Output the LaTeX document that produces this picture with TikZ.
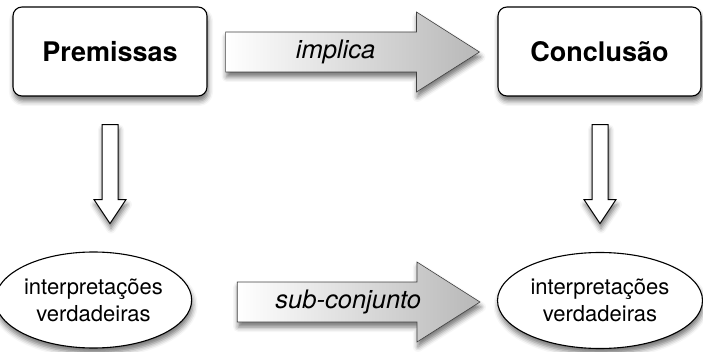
\documentclass[tikz,border=0pt]{standalone}
\usepackage{fontspec}
\setmainfont{TeX Gyre Heros}
\usetikzlibrary{calc,shapes.geometric,shadows.blur}

% seta grande horizontal: #1 inicio, #2 ponta
\newcommand{\setah}[2]{%
  \draw[setah] let \p1=(#1), \p2=(#2) in
    (\x1,\y1+20pt) -- (\x2-63pt,\y1+20pt) -- (\x2-63pt,\y1+40pt) -- (\x2,\y1)
    -- (\x2-63pt,\y1-40pt) -- (\x2-63pt,\y1-20pt) -- (\x1,\y1-20pt) -- cycle;}
% seta fina vertical: #1 inicio, #2 ponta
\newcommand{\setav}[2]{%
  \draw[setav] let \p1=(#1), \p2=(#2) in
    (\x1-8pt,\y1) -- (\x1-8pt,\y2+24pt) -- (\x1-16pt,\y2+24pt) -- (\x1,\y2)
    -- (\x1+16pt,\y2+24pt) -- (\x1+8pt,\y2+24pt) -- (\x1+8pt,\y1) -- cycle;}

\tikzset{
  sombra/.style={blur shadow={shadow xshift=1pt,shadow yshift=-5pt,shadow blur radius=5pt,shadow opacity=55}},
  caixa/.style={draw,line width=1.1pt,rounded corners=9pt,fill=white,minimum height=89pt,
    font=\fontsize{27}{32}\selectfont\bfseries,sombra},
  elipse/.style={ellipse,draw,line width=1.1pt,fill=white,inner sep=0pt,minimum height=96pt,
    align=center,font=\fontsize{22}{27}\selectfont,sombra},
  setah/.style={draw=black!75,line width=0.6pt,left color=white,right color=black!28,sombra},
  setav/.style={draw,line width=1pt,fill=white,sombra},
  rotulo/.style={font=\fontsize{25.5}{30}\selectfont\itshape}
}

\begin{document}
\begin{tikzpicture}[x=1pt,y=-1pt]
\useasboundingbox (0,0) rectangle (703,352);

\node[caixa,minimum width=194pt] (prem) at (110,51.5) {Premissas};
\node[caixa,minimum width=203pt] (conc) at (599.5,51.5) {Conclusão};
\node[elipse,minimum width=173pt] (interp1) at (93.5,300) {interpretações\\verdadeiras};
\node[elipse,minimum width=205pt] (interp2) at (600,300.5) {interpretações\\verdadeiras};

% setas horizontais
\coordinate (impl0) at ($(prem.east)+(18,0.5)$);
\coordinate (impl1) at ($(conc.west)+(-18,0.5)$);
\setah{impl0}{impl1}
\coordinate (sub0) at ($(interp1.east)+(45,2)$);
\coordinate (sub1) at ($(interp2.west)+(-17,1.5)$);
\setah{sub0}{sub1}

% setas verticais
\coordinate (pv0) at ($(prem.south)+(0,28)$);
\coordinate (pv1) at ($(prem.south)+(0,127)$);
\setav{pv0}{pv1}
\coordinate (cv0) at ($(conc.south)+(0.5,28)$);
\coordinate (cv1) at ($(conc.south)+(0.5,127)$);
\setav{cv0}{cv1}

\node[rotulo] (implica) at ($(impl0)+(110,0)$) {implica};
\node[rotulo] (subconj) at ($(sub0)+(111,0)$) {sub-conjunto};
\end{tikzpicture}
\end{document}
